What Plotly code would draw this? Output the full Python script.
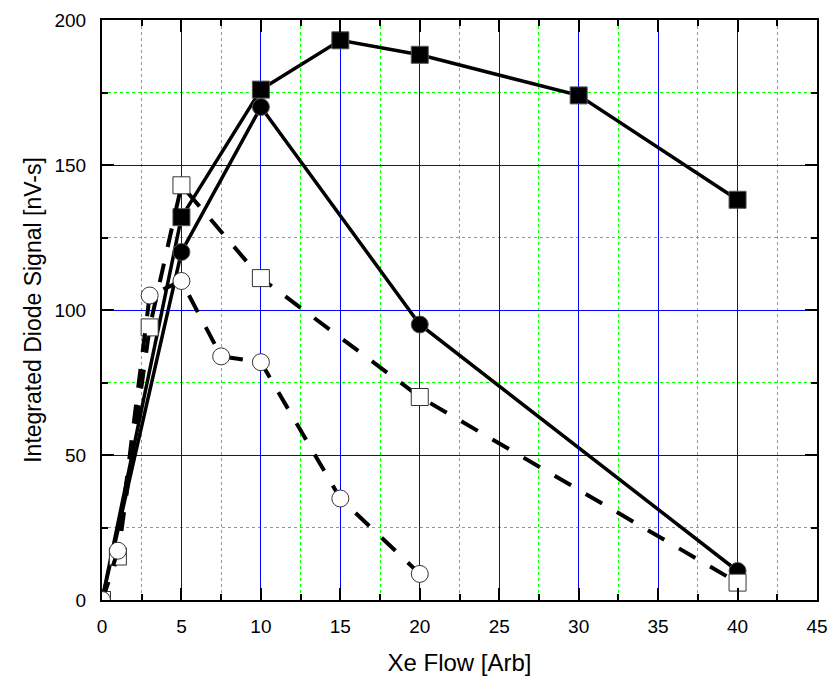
import plotly.graph_objects as go

# Data
x_filled_sq = [0, 5, 10, 15, 20, 30, 40]
y_filled_sq = [0, 132, 176, 193, 188, 174, 138]

x_filled_ci = [0, 5, 10, 20, 40]
y_filled_ci = [0, 120, 170, 95, 10]

x_open_sq = [0, 1, 3, 5, 10, 20, 40]
y_open_sq = [0, 15, 94, 143, 111, 70, 6]

x_open_ci = [0, 1, 3, 5, 7.5, 10, 15, 20]
y_open_ci = [0, 17, 105, 110, 84, 82, 35, 9]

x_ticks = [0, 5, 10, 15, 20, 25, 30, 35, 40, 45]
y_ticks = [0, 50, 100, 150, 200]

FONT = "Liberation Sans, Arial, sans-serif"

fig = go.Figure()

def add(x, y, symbol, filled, dash, width):
    fig.add_trace(go.Scatter(
        x=x, y=y, mode="lines+markers",
        line=dict(color="black", width=width, dash=dash),
        marker=dict(symbol=symbol, size=17,
                    color="black" if filled else "white",
                    line=dict(color="#555555" if filled else "#333333", width=1)),
        showlegend=False,
    ))

add(x_filled_sq, y_filled_sq, "square", True, "solid", 3.5)
add(x_filled_ci, y_filled_ci, "circle", True, "solid", 3.5)
add(x_open_sq, y_open_sq, "square", False, "19px,17px", 4)
add(x_open_ci, y_open_ci, "circle", False, "19px,17px", 4)

axis_common = dict(
    showline=True, linecolor="black", linewidth=2, mirror="ticks",
    ticks="inside", ticklen=12, tickwidth=2, tickcolor="black",
    showgrid=True, gridcolor="#0000ff", gridwidth=1,
    zeroline=False, automargin=False,
    tickfont=dict(family=FONT, size=19, color="black"),
)

fig.update_xaxes(
    range=[0, 45], tickvals=x_ticks,
    ticktext=[str(v) for v in x_ticks],
    ticklabelstandoff=8,
    title=dict(text="Xe Flow [Arb]", font=dict(family=FONT, size=24, color="black"), standoff=18),
    minor=dict(dtick=2.5, ticks="inside", ticklen=6, tickwidth=2, tickcolor="black",
               showgrid=True, gridcolor="#00ff00", griddash="dot", gridwidth=1),
    **axis_common,
)
fig.update_yaxes(
    range=[0, 200], tickvals=y_ticks,
    ticktext=[str(v) for v in y_ticks],
    ticklabelstandoff=10,
    title=dict(text="Integrated Diode Signal [nV-s]", font=dict(family=FONT, size=23, color="black"), standoff=6),
    minor=dict(dtick=25, ticks="inside", ticklen=6, tickwidth=2, tickcolor="black",
               showgrid=True, gridcolor="#00ff00", griddash="dot", gridwidth=1),
    **axis_common,
)

fig.update_layout(
    width=833, height=678,
    margin=dict(l=102, r=16, t=20, b=78),
    paper_bgcolor="white", plot_bgcolor="white",
    font=dict(family=FONT, color="black"),
)

fig.write_html("out.html")
